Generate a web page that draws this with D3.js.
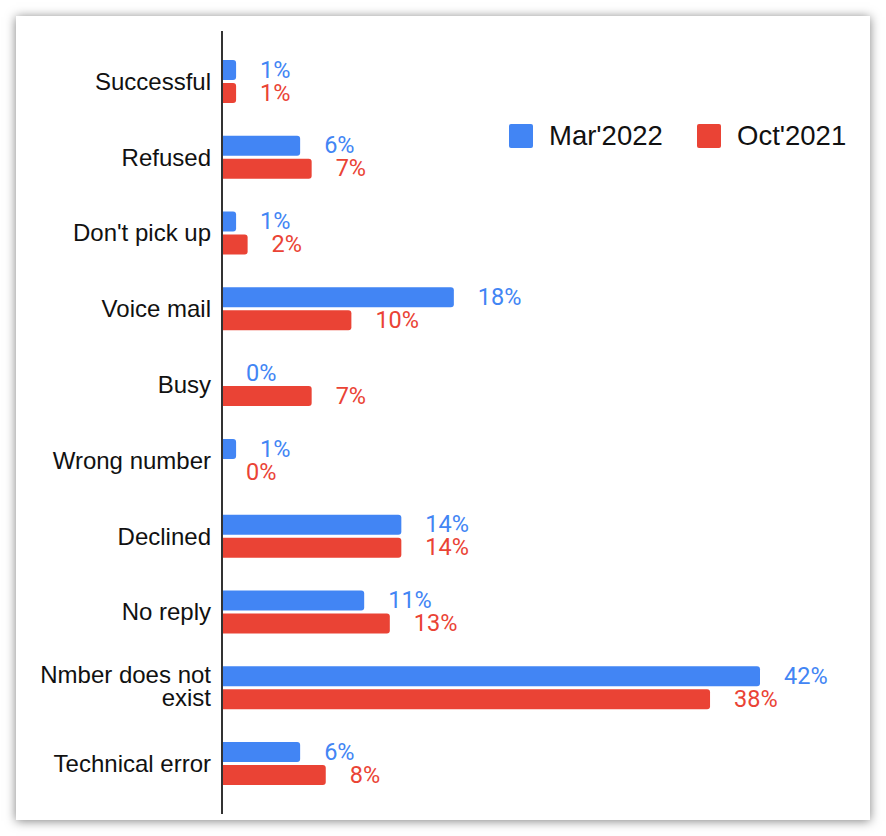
<!DOCTYPE html>
<html>
<head>
<meta charset="utf-8">
<script src="https://cdn.jsdelivr.net/npm/d3@7"></script>
<style>
  html, body { margin: 0; padding: 0; background: #ffffff; }
  #card { position: absolute; left: 16px; top: 16px; width: 854px; height: 804px; background: #fff;
          box-shadow: 0 1px 10px rgba(0,0,0,0.5); }
  svg { position: absolute; left: 0; top: 0; }
</style>
</head>
<body>
<div id="card"></div>
<svg id="chart" width="886" height="836"></svg>
<script>
const categories = ["Successful", "Refused", "Don't pick up", "Voice mail", "Busy",
  "Wrong number", "Declined", "No reply", "Nmber does not exist", "Technical error"];
const seriesNames = ["Mar'2022", "Oct'2021"];
const mar2022 = [1.1, 6.1, 1.1, 18.1, 0, 1.1, 14.0, 11.1, 42.0, 6.1];
const oct2021 = [1.1, 7.0, 2.0, 10.1, 7.0, 0, 14.0, 13.1, 38.1, 8.1];
const colors = ["#4285F4", "#EA4335"];

const svg = d3.select("#chart");
const x0 = 222;
const x = d3.scaleLinear().domain([0, 42]).range([x0, 760]);
const y = d3.scaleBand().domain(categories).range([43.5, 801.5]).paddingInner(0).paddingOuter(0);
const ySub = d3.scaleBand().domain(seriesNames)
  .range([y.bandwidth() / 2 - 21.5, y.bandwidth() / 2 + 21.5]).paddingInner(0.1304);

const data = categories.map((c, i) => ({cat: c, vals: [mar2022[i], oct2021[i]]}));

function barPath(xa, xb, ya, h, r) {
  const w = xb - xa;
  if (w <= 0) return "";
  r = Math.min(r, w, h / 2);
  return `M${xa},${ya}H${xb - r}Q${xb},${ya} ${xb},${ya + r}V${ya + h - r}Q${xb},${ya + h} ${xb - r},${ya + h}H${xa}Z`;
}

const groups = svg.selectAll("g.cat").data(data).join("g")
  .attr("class", "cat")
  .attr("transform", d => `translate(0,${y(d.cat)})`);

seriesNames.forEach((s, si) => {
  groups.append("path")
    .attr("d", d => barPath(x(0), x(d.vals[si]), ySub(s), ySub.bandwidth(), 3))
    .attr("fill", colors[si]);
  groups.append("text")
    .attr("x", d => x(d.vals[si]) + 24)
    .attr("y", ySub(s) + ySub.bandwidth() / 2 + 7.8)
    .attr("fill", colors[si])
    .attr("font-family", "Roboto, sans-serif")
    .attr("font-size", "23.5px")
    .text(d => Math.round(d.vals[si]) + "%");
});

// category labels
groups.each(function(d) {
  const g = d3.select(this);
  const cy = y.bandwidth() / 2;
  const lines = d.cat === "Nmber does not exist" ? ["Nmber does not", "exist"] : [d.cat];
  const t = g.append("text")
    .attr("text-anchor", "end")
    .attr("font-family", "'Liberation Sans', Arial, sans-serif")
    .attr("font-size", "24px")
    .attr("fill", "#111");
  if (lines.length === 1) {
    t.append("tspan").attr("x", 211).attr("y", cy + 8.4).text(lines[0]);
  } else {
    t.append("tspan").attr("x", 211).attr("y", cy - 5).text(lines[0]);
    t.append("tspan").attr("x", 211).attr("y", cy + 18.5).text(lines[1]);
  }
});

// axis line
svg.append("line")
  .attr("x1", x0).attr("x2", x0).attr("y1", 31).attr("y2", 814)
  .attr("stroke", "#333").attr("stroke-width", 2);

// legend
const legendX = [509, 697];
seriesNames.forEach((s, i) => {
  svg.append("rect").attr("x", legendX[i]).attr("y", 124).attr("width", 24).attr("height", 24)
    .attr("rx", 2).attr("fill", colors[i]);
  svg.append("text").attr("x", legendX[i] + 40).attr("y", 144.5)
    .attr("font-family", "'Liberation Sans', Arial, sans-serif")
    .attr("font-size", "27.5px").attr("fill", "#111").text(s);
});
</script>
</body>
</html>
